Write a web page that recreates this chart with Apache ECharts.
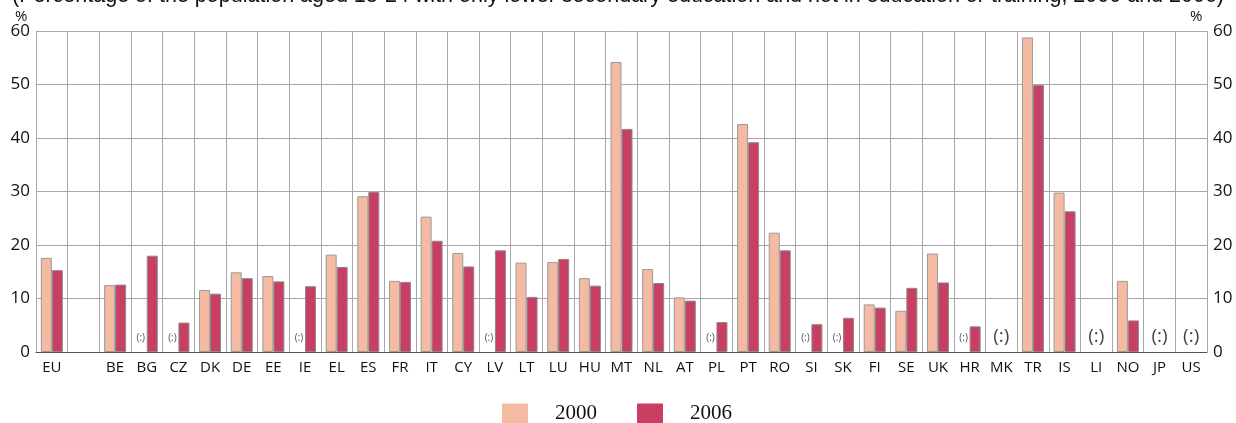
<!DOCTYPE html>
<html><head><meta charset="utf-8">
<script src="https://cdn.jsdelivr.net/npm/echarts@6/dist/echarts.min.js"></script>
<style>html,body{margin:0;padding:0;background:#fff}#c{width:1236px;height:423px}</style>
</head><body><div id="c"></div>
<script>
const categories = ['EU','','BE','BG','CZ','DK','DE','EE','IE','EL','ES','FR','IT','CY','LV','LT','LU','HU','MT','NL','AT','PL','PT','RO','SI','SK','FI','SE','UK','HR','MK','TR','IS','LI','NO','JP','US'];
const values2000 = [17.6,null,12.5,null,null,11.6,14.9,14.2,null,18.2,29.1,13.3,25.3,18.5,null,16.7,16.8,13.8,54.2,15.5,10.2,null,42.6,22.3,null,null,8.9,7.7,18.4,null,null,58.8,29.8,null,13.3,null,null];
const values2006 = [15.3,null,12.6,18.0,5.5,10.9,13.8,13.2,12.3,15.9,29.9,13.1,20.8,16.0,19.0,10.3,17.4,12.4,41.7,12.9,9.6,5.6,39.2,19.0,5.2,6.4,8.3,12.0,13.0,4.8,null,49.9,26.3,null,5.9,null,null];
const missing2000 = ['BG','CZ','IE','LV','PL','SI','SK','HR'];
const missingBoth = ['MK','LI','JP','US'];
const yTicks = [0,10,20,30,40,50,60];
const titleText = '(Percentage of the population aged 18-24 with only lower secondary education and not in education or training, 2000 and 2006)';

const chart = echarts.init(document.getElementById('c'));
const yAxisBase = {
  type:'value', min:0, max:60, interval:10,
  axisLine:{show:false}, axisTick:{show:false},
  splitLine:{show:true, lineStyle:{color:'#a8a8a8', width:1}},
  axisLabel:{fontFamily:'Open Sans', fontSize:17, color:'#111', margin:6}
};
chart.setOption({
  animation:false,
  graphic:[
    {type:'text', left:'center', top:-15, style:{text:titleText, font:'21.5px "Liberation Sans"', fill:'#111'}},
    {type:'text', left:15, top:9, style:{text:'%', font:'15px "Open Sans"', fill:'#111'}},
    {type:'text', left:1190, top:9, style:{text:'%', font:'15px "Open Sans"', fill:'#111'}}
  ],
  grid:{left:36, right:29, top:31, bottom:71},
  legend:{
    data:['2000','2006'], left:502, top:403, padding:0, icon:'rect', itemWidth:26, itemHeight:20, itemGap:40,
    itemStyle:{borderWidth:0},
    textStyle:{fontFamily:'Liberation Serif', fontSize:21, color:'#111', padding:[0,0,0,22]}
  },
  xAxis:{
    type:'category', data:categories, boundaryGap:true,
    axisLine:{show:true, lineStyle:{color:'#555', width:1}},
    axisTick:{show:false},
    splitLine:{show:true, lineStyle:{color:'#a8a8a8', width:1}},
    axisLabel:{interval:0, fontFamily:'Open Sans', fontSize:15, color:'#111', margin:8}
  },
  yAxis:[
    Object.assign({}, yAxisBase, {position:'left'}),
    Object.assign({}, yAxisBase, {position:'right', splitLine:{show:false}})
  ],
  series:[
    {name:'2000', type:'bar', data:values2000, barWidth:11, barGap:'0%',
     itemStyle:{color:'#F5BAA2', borderColor:'#9a9a9a', borderWidth:1}},
    {name:'2006', type:'bar', data:values2006, barWidth:11,
     itemStyle:{color:'#C93F63', borderColor:'#8a8a8a', borderWidth:1}},
    {name:'m1', type:'scatter', symbolSize:0, data:missing2000.map(c=>[c,2.6]),
     label:{show:true, formatter:'(:)', position:'inside', offset:[-6,0], fontFamily:'Open Sans', fontSize:10, color:'#222'}},
    {name:'m2', type:'scatter', symbolSize:0, data:missingBoth.map(c=>[c,2.9]),
     label:{show:true, formatter:'(:)', position:'inside', fontFamily:'Open Sans', fontSize:19, color:'#111'}}
  ]
});
</script></body></html>
